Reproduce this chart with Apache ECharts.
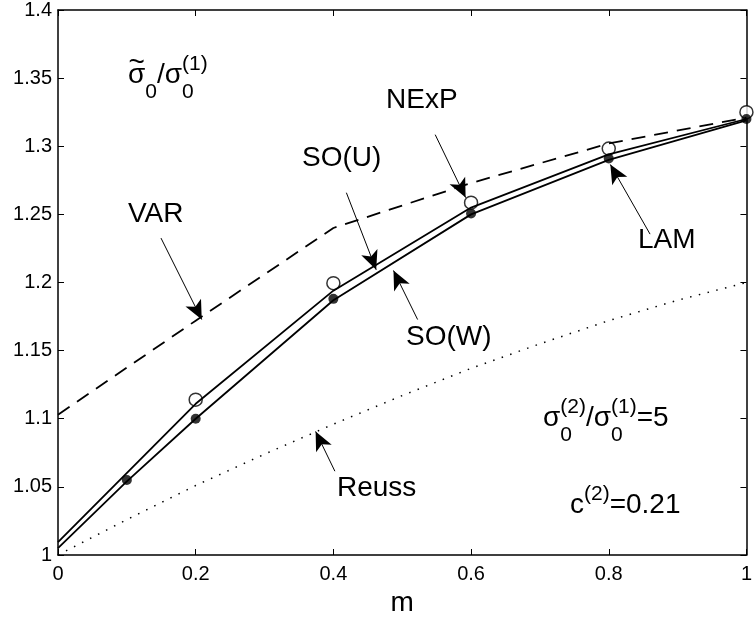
<!DOCTYPE html>
<html>
<head>
<meta charset="utf-8">
<script src="https://cdn.jsdelivr.net/npm/echarts@6/dist/echarts.min.js"></script>
<style>
  html, body { margin: 0; padding: 0; background: #fff; }
  #chart { width: 755px; height: 622px; }
</style>
</head>
<body>
<div id="chart"></div>
<script>
// values
const varM = [0, 0.2, 0.4, 0.6, 0.8, 1];
const varY = [1.103, 1.172, 1.240, 1.273, 1.302, 1.321];
const soUM = [0, 0.2, 0.4, 0.6, 0.8, 1];
const soUY = [1.0095, 1.111, 1.194, 1.255, 1.294, 1.320];
const soWM = [0, 0.1, 0.2, 0.4, 0.6, 0.8, 1];
const soWY = [1.005, 1.054, 1.100, 1.187, 1.250, 1.290, 1.319];
const nexpM = [0.2, 0.4, 0.6, 0.8, 1];
const nexpY = [1.114, 1.1995, 1.2586, 1.2983, 1.325];
const lamM = [0.1, 0.2, 0.4, 0.6, 0.8, 1];
const lamY = [1.055, 1.100, 1.188, 1.2506, 1.291, 1.320];
const reussM = [0, 0.1, 0.2, 0.3, 0.4, 0.5, 0.6, 0.7, 0.8, 0.9, 1];
const reussY = [1.000, 1.026, 1.051, 1.074, 1.096, 1.117, 1.137, 1.155, 1.172, 1.187, 1.200];

// arrows: [from, to] in data coords
const arrows = [
  [[0.1496, 1.2326], [0.2088, 1.1728]], // VAR
  [[0.4189, 1.2659], [0.4622, 1.2093]], // SO(U)
  [[0.5479, 1.3085], [0.5921, 1.2623]], // NExP
  [[0.8600, 1.2355], [0.8023, 1.2866]], // LAM
  [[0.5224, 1.1728], [0.4873, 1.2088]], // SO(W)
  [[0.4022, 1.0615], [0.3742, 1.0907]]  // Reuss
];

const FONT = '"Liberation Sans", Arial, sans-serif';
const zip = (xs, ys) => xs.map((x, i) => [x, ys[i]]);

const ctx = document.createElement('canvas').getContext('2d');
function textW(t, fs) {
  ctx.font = fs + 'px ' + FONT;
  return ctx.measureText(t).width;
}
function txt(t, x, base, fs) {
  return {
    type: 'text', x: x, y: base - 0.3465 * fs, silent: true,
    style: { text: t, fontSize: fs, fontFamily: FONT, fill: '#000', align: 'left', verticalAlign: 'middle' }
  };
}
// simple label with sub/superscripts
function mathLabel(x0, base, parts) {
  const out = [];
  let x = x0;
  parts.forEach((p) => {
    if (p.tilde) out.push(txt('~', x + 0.5, base - 12, 28));
    if (p.t) {
      out.push(txt(p.t, x, base, 28));
      x += textW(p.t, 28);
    }
    let w = 0;
    if (p.sub) { out.push(txt(p.sub, x, base + 14, 21)); w = Math.max(w, textW(p.sub, 21)); }
    if (p.sup) { out.push(txt(p.sup, x, base - 14, 21)); w = Math.max(w, textW(p.sup, 21)); }
    x += w;
  });
  return out;
}

const graphics = [
  txt('VAR', 128, 224, 28),
  txt('SO(U)', 302, 168, 28),
  txt('NExP', 386, 110, 28),
  txt('LAM', 638, 250, 28),
  txt('SO(W)', 406, 347, 28),
  txt('Reuss', 337, 498, 28),
  ...mathLabel(128, 85, [{ t: 'σ', sub: '0', tilde: true }, { t: '/σ', sub: '0', sup: '(1)' }]),
  ...mathLabel(543, 428, [{ t: 'σ', sub: '0', sup: '(2)' }, { t: '/σ', sub: '0', sup: '(1)' }, { t: '=5' }]),
  ...mathLabel(570, 515, [{ t: 'c', sup: '(2)' }, { t: '=0.21' }])
];

const axisCommon = {
  type: 'value',
  axisLine: { show: true, onZero: false, lineStyle: { color: '#000', width: 1.5 } },
  axisTick: { show: true, inside: true, length: 6, lineStyle: { color: '#000', width: 1 } },
  splitLine: { show: false }
};
const labelStyle = { color: '#000', fontSize: 20, fontFamily: FONT };

const chart = echarts.init(document.getElementById('chart'), null, { renderer: 'canvas' });
chart.setOption({
  animation: false,
  backgroundColor: '#fff',
  grid: { left: 58, right: 4, top: 8, bottom: 66, containLabel: false },
  xAxis: [
    Object.assign({}, axisCommon, {
      min: 0, max: 1, interval: 0.2, position: 'bottom',
      axisLabel: Object.assign({ margin: 9 }, labelStyle),
      name: 'm', nameLocation: 'middle', nameGap: 34,
      nameTextStyle: { color: '#000', fontSize: 28, fontFamily: FONT }
    }),
    Object.assign({}, axisCommon, {
      min: 0, max: 1, interval: 0.2, position: 'top', axisLabel: { show: false }
    })
  ],
  yAxis: [
    Object.assign({}, axisCommon, {
      min: 1, max: 1.4, interval: 0.05, position: 'left',
      axisLabel: Object.assign({ margin: 6 }, labelStyle)
    }),
    Object.assign({}, axisCommon, {
      min: 1, max: 1.4, interval: 0.05, position: 'right', axisLabel: { show: false }
    })
  ],
  series: [
    {
      name: 'VAR', type: 'line', data: zip(varM, varY), showSymbol: false, symbol: 'none',
      lineStyle: { color: '#000', width: 1.8, type: [14, 9] }, silent: true
    },
    {
      name: 'SO(U)', type: 'line', data: zip(soUM, soUY), symbol: 'none',
      lineStyle: { color: '#000', width: 1.8 }, silent: true
    },
    {
      name: 'SO(W)', type: 'line', data: zip(soWM, soWY), symbol: 'none',
      lineStyle: { color: '#000', width: 1.8 }, silent: true
    },
    {
      name: 'Reuss', type: 'line', data: zip(reussM, reussY), symbol: 'none',
      lineStyle: { color: '#000', width: 1.5, type: [1.5, 7.5] }, silent: true,
      markLine: {
        silent: true, animation: false,
        symbol: ['none', 'arrow'],
        label: { show: false },
        lineStyle: { color: '#000', width: 1, type: 'solid' },
        emphasis: { disabled: true },
        data: arrows.map((a) => [
          { coord: a[0], symbol: 'none' },
          { coord: a[1], symbol: 'arrow', symbolSize: [13, 19] }
        ])
      }
    },
    {
      name: 'NExP', type: 'scatter', data: zip(nexpM, nexpY), symbol: 'circle', symbolSize: 13,
      itemStyle: { color: '#fff', borderColor: '#000', borderWidth: 1.5 }, silent: true
    },
    {
      name: 'LAM', type: 'scatter', data: zip(lamM, lamY), symbol: 'circle', symbolSize: 10,
      itemStyle: { color: '#000' }, silent: true
    }
  ],
  graphic: graphics
});
</script>
</body>
</html>
